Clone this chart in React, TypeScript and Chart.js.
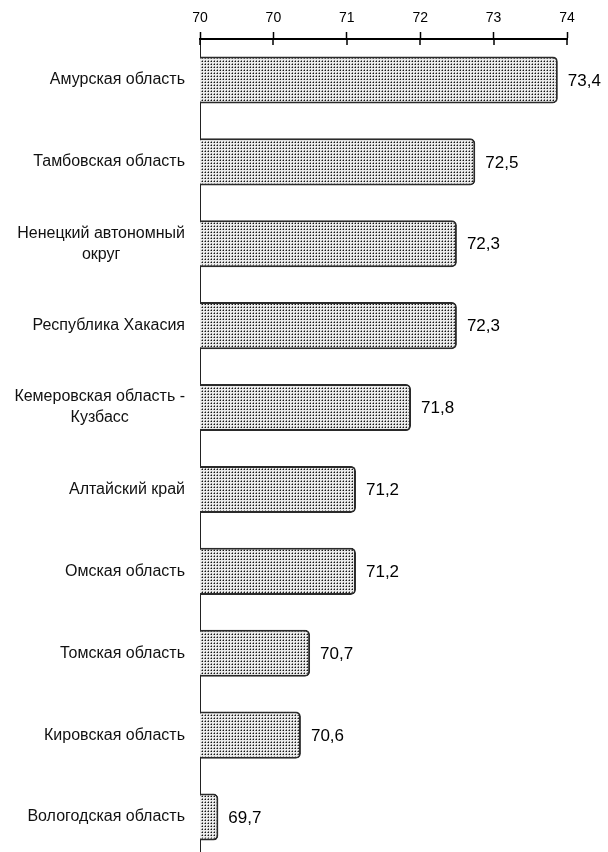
import React, { useEffect, useRef } from "react";
import { Chart, registerables } from "chart.js";

Chart.register(...registerables);

const categories: string[][] = [
  ["Амурская область"],
  ["Тамбовская область"],
  ["Ненецкий автономный", "округ"],
  ["Республика Хакасия"],
  ["Кемеровская область -", "Кузбасс"],
  ["Алтайский край"],
  ["Омская область"],
  ["Томская область"],
  ["Кировская область"],
  ["Вологодская область"],
];
const values: number[] = [73.4, 72.5, 72.3, 72.3, 71.8, 71.2, 71.2, 70.7, 70.6, 69.7];
const tickLabels: string[] = ["70", "70", "71", "72", "73", "74"];
const axisMin = 69.5;
const axisMax = 73.5;
const axisStep = 0.8;

const FONT = "'Liberation Sans', Arial, sans-serif";

function makePattern(): CanvasPattern | string {
  const c = document.createElement("canvas");
  c.width = 3;
  c.height = 3;
  const g = c.getContext("2d");
  if (!g) return "#ccc";
  g.fillStyle = "#ececec";
  g.fillRect(0, 0, 3, 3);
  g.fillStyle = "#8a8a8a";
  g.fillRect(0, 1, 1, 1);
  g.fillRect(1, 0, 1, 1);
  g.fillStyle = "#151515";
  g.fillRect(1, 1, 1, 1);
  const p = g.createPattern(c, "repeat");
  return p || "#ccc";
}

const customPlugin = {
  id: "custom",
  afterDraw(chart: any) {
    const ctx = chart.ctx as CanvasRenderingContext2D;
    const xs = chart.scales.x;
    const ys = chart.scales.y;
    const top = chart.chartArea.top;
    ctx.save();
    ctx.strokeStyle = "#000";
    ctx.lineWidth = 1.5;
    xs.ticks.forEach((t: any) => {
      const x = Math.round(xs.getPixelForValue(t.value));
      ctx.beginPath();
      ctx.moveTo(x, top);
      ctx.lineTo(x, top + 6);
      ctx.stroke();
    });
    ctx.fillStyle = "#111";
    ctx.font = `16px ${FONT}`;
    ctx.textBaseline = "middle";
    ctx.textAlign = "center";
    const right = 185;
    const lh = 21;
    categories.forEach((lines, i) => {
      const y = ys.getPixelForValue(i);
      const maxW = Math.max(...lines.map((l) => ctx.measureText(l).width));
      const cx = right - maxW / 2;
      lines.forEach((l, j) => {
        ctx.fillText(l, cx, y + (j - (lines.length - 1) / 2) * lh);
      });
    });
    ctx.font = `17px ${FONT}`;
    ctx.textAlign = "left";
    ctx.fillStyle = "#000";
    const meta = chart.getDatasetMeta(0);
    meta.data.forEach((bar: any, i: number) => {
      ctx.fillText(String(values[i]).replace(".", ","), bar.x + 10, bar.y + 1);
    });
    ctx.restore();
  },
};

export default function App() {
  const ref = useRef<HTMLCanvasElement | null>(null);
  useEffect(() => {
    if (!ref.current) return;
    const chart = new Chart(ref.current, {
      type: "bar",
      data: {
        labels: categories.map((c) => c.join(" ")),
        datasets: [
          {
            data: values,
            backgroundColor: makePattern() as any,
            borderColor: "#2a2a2a",
            borderWidth: 2,
            borderRadius: { topRight: 5, bottomRight: 5, topLeft: 0, bottomLeft: 0 },
            borderSkipped: "start",
            categoryPercentage: 1,
            barPercentage: 0.575,
          },
        ],
      },
      options: {
        indexAxis: "y",
        animation: false,
        responsive: false,
        maintainAspectRatio: false,
        layout: { padding: { left: 0, right: 41, top: 0, bottom: 0 } },
        plugins: { legend: { display: false }, tooltip: { enabled: false } },
        scales: {
          x: {
            type: "linear",
            position: "top",
            min: axisMin,
            max: axisMax,
            ticks: {
              stepSize: axisStep,
              color: "#000",
              font: { family: FONT, size: 14 },
              padding: 5,
              callback: (_v: any, i: number) => tickLabels[i],
            },
            grid: {
              drawOnChartArea: false,
              drawTicks: true,
              tickLength: 7,
              tickColor: "#000",
              tickWidth: 1.5,
            },
            border: { display: true, color: "#000", width: 2 },
            afterFit: (s: any) => {
              s.height = 39;
            },
          },
          y: {
            type: "category",
            ticks: { display: false },
            grid: { display: false },
            border: { display: true, color: "#222", width: 1 },
            afterFit: (s: any) => {
              s.width = 200;
            },
          },
        },
      },
      plugins: [customPlugin],
    });
    return () => chart.destroy();
  }, []);
  return (
    <div
      style={{
        position: "absolute",
        left: 0,
        top: 0,
        width: 608,
        height: 852,
        overflow: "hidden",
        background: "#fff",
      }}
    >
      <canvas ref={ref} width={608} height={858} style={{ width: 608, height: 858, display: "block" }} />
    </div>
  );
}
